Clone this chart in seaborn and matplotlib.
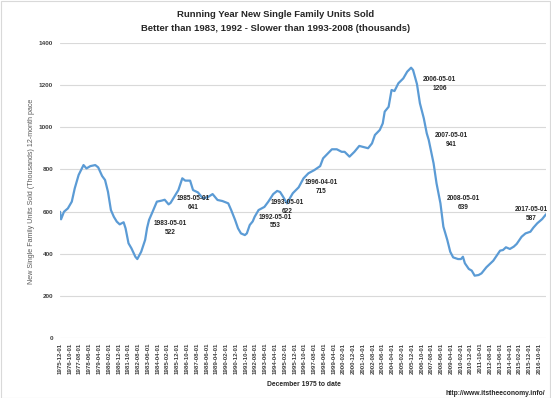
import pandas as pd
import seaborn as sns
import matplotlib.pyplot as plt
from matplotlib.patches import Rectangle

######################################################
# Data #

# running year new single family sales (thousands)
dates = [
    '1975-12', '1976-01', '1976-04', '1976-08', '1976-12', '1977-03', '1977-07', '1977-12',
    '1978-03', '1978-07', '1978-12', '1979-03', '1979-07', '1979-10', '1980-01', '1980-04',
    '1980-07', '1980-10', '1981-01', '1981-05', '1981-07', '1981-10', '1982-01', '1982-05',
    '1982-07', '1982-11', '1983-03', '1983-05', '1983-07', '1983-10', '1984-03', '1984-08',
    '1984-11', '1985-03', '1985-05', '1985-10', '1986-01', '1986-05', '1986-08', '1987-01',
    '1987-04', '1987-09', '1988-02', '1988-07', '1988-12', '1989-05', '1989-10', '1990-04',
    '1990-07', '1990-11', '1991-02', '1991-05', '1991-09', '1991-11', '1992-02', '1992-05',
    '1992-07', '1992-11', '1993-05', '1993-09', '1994-02', '1994-06', '1994-09', '1994-12',
    '1995-04', '1995-07', '1995-10', '1996-04', '1996-09', '1997-02', '1997-08', '1998-02',
    '1998-05', '1998-10', '1999-02', '1999-07', '1999-12', '2000-03', '2000-08', '2001-01',
    '2001-06', '2001-12', '2002-03', '2002-07', '2002-10', '2003-03', '2003-06', '2003-08',
    '2003-12', '2004-03', '2004-06', '2004-10', '2005-03', '2005-07', '2005-11', '2006-01',
    '2006-05', '2006-08', '2006-12', '2007-03', '2007-05', '2007-10', '2008-01', '2008-05',
    '2008-08', '2008-12', '2009-03', '2009-06', '2009-11', '2010-02', '2010-04', '2010-06',
    '2010-10', '2011-01', '2011-04', '2011-08', '2011-11', '2012-04', '2012-11', '2013-03',
    '2013-06', '2013-09', '2013-12', '2014-04', '2014-08', '2014-11', '2015-04', '2015-08',
    '2016-01', '2016-04', '2016-08', '2017-01', '2017-05',
]
units = [
    599, 563, 599, 615, 647, 710, 774, 821,
    805, 816, 821, 810, 769, 750, 694, 607,
    575, 552, 539, 549, 520, 449, 425, 385,
    374, 409, 465, 522, 560, 592, 647, 652,
    656, 634, 641, 679, 702, 758, 747, 747,
    702, 691, 663, 668, 683, 655, 650, 639,
    607, 560, 520, 496, 488, 496, 536, 553,
    575, 607, 622, 647, 683, 698, 693, 671,
    639, 663, 687, 715, 758, 782, 797, 816,
    853, 877, 896, 896, 884, 884, 861, 884,
    912, 905, 901, 924, 964, 988, 1019, 1075,
    1098, 1178, 1173, 1210, 1233, 1265, 1284, 1273,
    1206, 1115, 1043, 972, 941, 829, 734, 639,
    528, 465, 409, 382, 374, 374, 385, 354,
    327, 319, 295, 298, 306, 335, 366, 393,
    414, 417, 430, 422, 433, 446, 480, 496,
    504, 523, 544, 564, 587,
]

# points that carry a data label
label_dates = ['1983-05', '1985-05', '1992-05', '1993-05', '1996-04',
               '2006-05', '2007-05', '2008-05', '2017-05']

# category axis shows every 10th month
tick_step = 10

######################################################
# Cleaning #

df = pd.DataFrame({'Date': pd.to_datetime(dates, format='%Y-%m'), 'Units': units})
start = df['Date'].min()
# month position on the category axis
df['Month_Idx'] = (df['Date'].dt.year - start.year) * 12 + (df['Date'].dt.month - start.month)
n_months = df['Month_Idx'].max()

tick_pos = list(range(0, n_months + 1, tick_step))
tick_lab = [(start + pd.DateOffset(months=m)).strftime('%Y-%m-01') for m in tick_pos]

######################################################
# Figure #

sns.set_style('white')
plt.rcParams['font.family'] = ['Liberation Sans', 'DejaVu Sans']

fig = plt.figure(figsize=(5.51, 3.98), dpi=100)
ax = fig.add_axes([0.109, 0.1515, 0.882, 0.7397])

sns.lineplot(data=df, x='Month_Idx', y='Units', color='#5B9BD5', linewidth=1.6, ax=ax)

ax.set_xlim(0, n_months)
ax.set_ylim(0, 1400)
ax.set_yticks(range(0, 1401, 200))
ax.set_xticks(tick_pos)
ax.set_xticklabels(tick_lab, rotation=90, fontsize=4.4, fontweight='bold', color='#404040')
ax.tick_params(axis='y', labelsize=4.6, length=0, pad=5, labelcolor='#404040')
ax.tick_params(axis='x', length=0, pad=3.5)
for lab in ax.get_yticklabels():
    lab.set_fontweight('bold')
ax.grid(axis='y', color='#D9D9D9', linewidth=0.8)
ax.set_axisbelow(True)
sns.despine(ax=ax, left=True, bottom=True)
ax.set_xlabel(None)
ax.set_ylabel(None)

    # Data labels to the right of the point

for d in label_dates:
    row = df[df['Date'] == pd.to_datetime(d, format='%Y-%m')].iloc[0]
    txt = f"{d}-01\n{row['Units']}"
    if row['Month_Idx'] == n_months:
        ha, dx = 'right', 1.5
    else:
        ha, dx = 'left', 4.5
    ax.annotate(txt, xy=(row['Month_Idx'], row['Units']), xytext=(dx, 0),
                textcoords='offset points', ha=ha, va='center', multialignment='center',
                fontsize=4.7, fontweight='bold', color='#262626', linespacing=1.35)

fig.text(0.5, 1 - 14.7 / 398, 'Running Year New Single Family Units Sold',
         ha='center', va='center', fontsize=6.8, fontweight='bold', color='#262626')
fig.text(0.5, 1 - 28.5 / 398, 'Better than 1983, 1992 - Slower than 1993-2008 (thousands)',
         ha='center', va='center', fontsize=6.8, fontweight='bold', color='#262626')
fig.text(32 / 551, 1 - 191 / 398, 'New Single Family Units Sold (Thousands) 12-month pace',
         rotation=90, ha='center', va='center', fontsize=5.1, color='#595959')
fig.text(304 / 551, 1 - 384.5 / 398, 'December 1975 to date',
         ha='center', va='center', fontsize=4.9, fontweight='bold', color='#262626')
fig.text(545 / 551, 1 - 393.5 / 398, 'http://www.itstheeconomy.info/',
         ha='right', va='center', fontsize=4.9, fontweight='bold', color='#262626')

# chart area border
fig.patches.append(Rectangle((0.001, 0.001), 0.997, 0.997, transform=fig.transFigure,
                             fill=False, edgecolor='#D9D9D9', linewidth=0.8))

plt.savefig('out.png', dpi=100)
